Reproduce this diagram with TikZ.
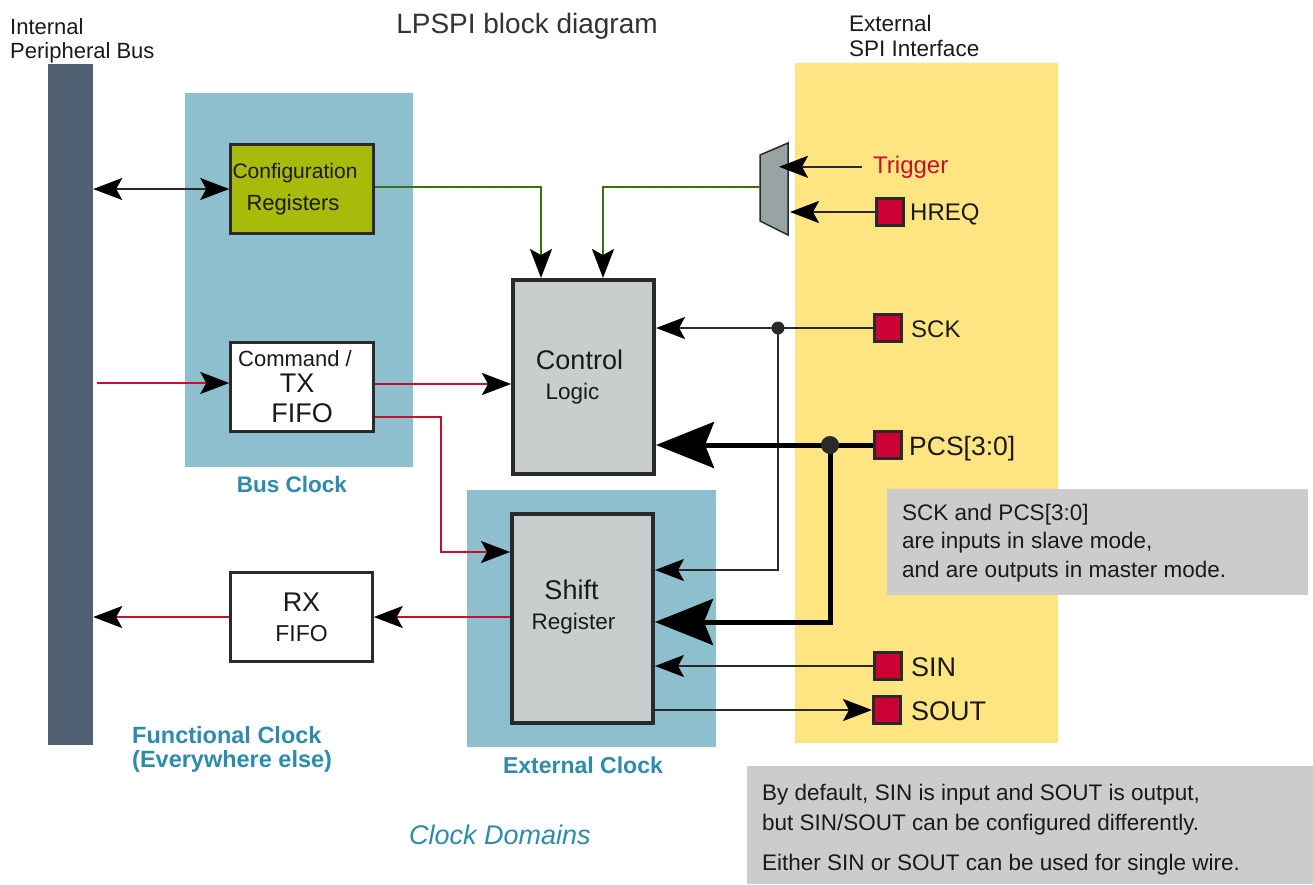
\documentclass[tikz,border=0pt]{standalone}
\usepackage{fontspec}
\setmainfont{Liberation Sans}
\usetikzlibrary{arrows.meta,calc}
\definecolor{busbar}{HTML}{4F6172}
\definecolor{clkblue}{HTML}{8DBFCE}
\definecolor{spiyel}{HTML}{FFE581}
\definecolor{cfgolive}{HTML}{A8BA0A}
\definecolor{boxgray}{HTML}{C8CECE}
\definecolor{muxgray}{HTML}{98A4A4}
\definecolor{padred}{HTML}{CC0033}
\definecolor{sigred}{HTML}{C8102E}
\definecolor{siggreen}{HTML}{3E6E12}
\definecolor{lblblue}{HTML}{2E8BAA}
\definecolor{notegray}{HTML}{CCCCCC}
\definecolor{edgecol}{HTML}{2A2A2A}
\definecolor{txtcol}{HTML}{1A1A1A}
\newcommand\setfs[2][]{\fontsize{#2}{#2}\selectfont}
\begin{document}
\begin{tikzpicture}[x=1pt,y=-1pt,
  every node/.style={text=txtcol},
  wbox/.style={draw=edgecol, line width=2.5pt, fill=white, inner sep=0pt,
    minimum width=143pt, minimum height=89pt, align=center},
  gbox/.style={draw=edgecol, line width=4pt, fill=boxgray, inner sep=0pt,
    minimum width=141pt, align=center},
  pad/.style={draw=edgecol, line width=3pt, fill=padred, inner sep=0pt, minimum size=27pt},
  padlbl/.style={anchor=base west, inner sep=0pt, font=\setfs{24}},
  clklbl/.style={anchor=base, inner sep=0pt, text=lblblue, font=\bfseries\setfs{23}},
  notelbl/.style={anchor=base west, inner sep=0pt, font=\setfs{22.5}},
  thinline/.style={draw=edgecol, line width=2.2pt},
  thickline/.style={draw=black, line width=5pt},
  redline/.style={draw=sigred, line width=2.2pt},
  greenline/.style={draw=siggreen, line width=2.2pt},
  arr/.style={-{Stealth[length=29pt,width=22pt,inset=6pt,color=black]}},
  biarr/.style={{Stealth[length=29pt,width=22pt,inset=6pt,color=black]}-{Stealth[length=29pt,width=22pt,inset=6pt,color=black]}},
  bigarr/.style={-{Stealth[length=58pt,width=46pt,inset=9pt,color=black]}}
]
\useasboundingbox (0,0) rectangle (1313,884);
\fill[white] (0,0) rectangle (1313,884);

% clock domain regions
\fill[clkblue] (185,93) rectangle (413,467);
\fill[clkblue] (467,490) rectangle (716,747);
\fill[spiyel] (795,63) rectangle (1058,743);

% bus bar
\node[fill=busbar, inner sep=0pt, minimum width=45pt, minimum height=681pt] (bus) at (70.5,404.5) {};

% titles
\node[anchor=base, inner sep=0pt, font=\setfs{28}, text=black!80] (title) at (527,33) {LPSPI block diagram};
\node[anchor=base west, inner sep=0pt, font=\setfs{22}] (ipb1) at (10,34) {Internal};
\node[anchor=base west, inner sep=0pt, font=\setfs{22}] (ipb2) at (10,58) {Peripheral Bus};
\node[anchor=base west, inner sep=0pt, font=\setfs{22.5}] (esi1) at (849,31) {External};
\node[anchor=base west, inner sep=0pt, font=\setfs{22.5}] (esi2) at (849,56) {SPI Interface};

% blocks
\node[wbox, fill=cfgolive, font=\fontsize{22}{32}\selectfont] (cfg) at (302,189)
  {\hspace*{-14pt}\fontsize{21}{32}\selectfont Configuration\\ \hspace*{-18pt}Registers};
\node[wbox, font=\fontsize{27}{30}\selectfont] (cmd) at (302,387)
  {\hspace*{-14pt}\fontsize{22}{26}\selectfont Command /\\[-4pt] \hspace*{-10pt}TX\\ FIFO};
\node[wbox, minimum width=142pt, font=\fontsize{27}{30}\selectfont] (rx) at (301.5,617)
  {RX\\ \fontsize{23}{30}\selectfont FIFO};
\node[gbox, minimum height=194pt, font=\fontsize{27}{30}\selectfont] (ctrl) at (583.5,377)
  {\hspace*{-8pt}Control\\ \hspace*{-22pt}\fontsize{22.5}{30}\selectfont Logic};
\node[gbox, minimum height=209pt, text depth=27pt, font=\fontsize{27}{30}\selectfont] (shift) at (582.5,618.5)
  {\hspace*{-22pt}Shift\\ \hspace*{-18pt}\fontsize{22.5}{30}\selectfont Register};

% mux
\draw[fill=muxgray, draw=edgecol, line width=1.5pt] (760,155) -- (788,143) -- (788,235) -- (760,221) -- cycle;
\coordinate (muxout) at (760,187);
\coordinate (muxin) at (790,165);

% pads
\node[pad] (hreq) at (890,212) {};
\node[pad] (sck) at (888,328) {};
\node[pad] (pcs) at (888,445) {};
\node[pad] (sin) at (888,666) {};
\node[pad] (sout) at (887,710) {};
\node[anchor=base west, inner sep=0pt, font=\setfs{24}, text=sigred] (trig) at (873,173) {Trigger};
\node[padlbl] (hreqlbl) at (910,220) {HREQ};
\node[padlbl] (scklbl) at (911,337) {SCK};
\node[padlbl, font=\setfs{26.5}] (pcslbl) at (909,455) {PCS[3:0]};
\node[padlbl, font=\setfs{27}] (sinlbl) at (911,676) {SIN};
\node[padlbl, font=\setfs{27}] (soutlbl) at (911,720) {SOUT};

% clock labels
\node[clklbl, font=\bfseries\setfs{22.5}] (busclk) at (292,492) {Bus Clock};
\node[clklbl] (extclk) at (583,773) {External Clock};
\node[clklbl, anchor=base west, font=\bfseries\setfs{23.5}] (fclk1) at (132,743) {Functional Clock};
\node[clklbl, anchor=base west, font=\bfseries\setfs{23.5}] (fclk2) at (132,767) {(Everywhere else)};
\node[anchor=base, inner sep=0pt, text=lblblue, font=\itshape\setfs{27}] (cdom) at (500,844) {Clock Domains};

% connectors: bus side
\draw[thinline, biarr] (bus.east |- cfg.west) -- (cfg.west);
\coordinate (redin) at (97,383);
\draw[redline, arr] (redin) -- (redin -| cmd.west);
\draw[redline, arr] ([yshift=3pt]cmd.east) -- ([yshift=3pt]cmd.east -| ctrl.west);
\coordinate (redturn) at (441,552);
\draw[redline, arr] ([yshift=-30pt]cmd.east) -| (redturn) -- (redturn -| shift.west);
\draw[redline, arr] (shift.west |- rx.east) -- (rx.east);
\draw[redline, arr] (rx.west) -- (rx.west -| bus.east);

% green control inputs
\draw[greenline, arr] ([yshift=2pt]cfg.east) -| ($(ctrl.north west)+(30,0)$);
\draw[greenline, arr] (muxout) -| ($(ctrl.north west)+(92,0)$);

% mux inputs
\draw[thinline, arr] ([xshift=-11pt]trig.west) -- ([xshift=-11pt]trig.west -| muxin);
\draw[thinline, arr] (hreq.west) -- (hreq.west -| muxin);

% SCK
\coordinate (sckj) at (778,328);
\coordinate (sckturn) at (778,570);
\draw[thinline, arr] (sck.west) -- (sck.west -| ctrl.east);
\draw[thinline, arr] (sckj) -- (sckturn) -- (sckturn -| shift.east);
\fill[edgecol] (sckj) circle (6.5);

% PCS
\coordinate (pcsj) at (830,445);
\coordinate (pcsturn) at (830,622);
\draw[thickline, bigarr] (pcs.west) -- (pcs.west -| ctrl.east);
\draw[thickline, bigarr] (pcsj) -- (pcsturn) -- (pcsturn -| shift.east);
\fill[edgecol] (pcsj) circle (9);

% SIN / SOUT
\draw[thinline, arr] (sin.west) -- (sin.west -| shift.east);
\draw[thinline, arr] (sout.west -| shift.east) -- (sout.west);

% notes
\fill[notegray] (887,489) rectangle (1308,595);
\node[notelbl] (n1a) at (902,520) {SCK and PCS[3:0]};
\node[notelbl] (n1b) at (902,548) {are inputs in slave mode,};
\node[notelbl] (n1c) at (902,577) {and are outputs in master mode.};
\fill[notegray] (747,766) rectangle (1313,884);
\node[notelbl] (n2a) at (762,800) {By default, SIN is input and SOUT is output,};
\node[notelbl] (n2b) at (762,830) {but SIN/SOUT can be configured differently.};
\node[notelbl] (n2c) at (762,870) {Either SIN or SOUT can be used for single wire.};
\end{tikzpicture}
\end{document}
